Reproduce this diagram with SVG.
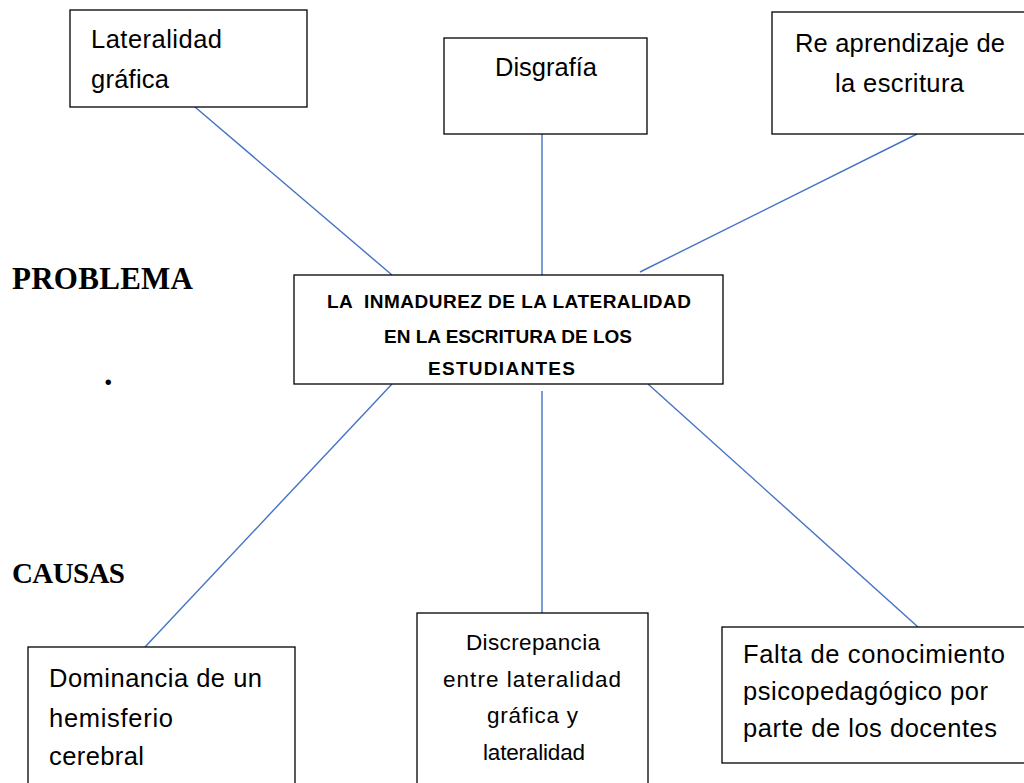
<svg xmlns="http://www.w3.org/2000/svg" width="1024" height="783" viewBox="0 0 1024 783">
<style>
.box{fill:#fff;stroke:#000;stroke-width:1.3}
.t{font-family:"Liberation Sans",Arial,sans-serif;font-size:25.5px;fill:#000}
.s{font-family:"Liberation Sans",Arial,sans-serif;font-size:22.5px;fill:#000}
.b{font-family:"Liberation Sans",Arial,sans-serif;font-size:19px;font-weight:bold;fill:#000;white-space:pre}
.h{font-family:"Liberation Serif","Times New Roman",serif;font-weight:bold;fill:#000}
.c{stroke:#4472C4;stroke-width:1.4;fill:none}
</style>
<rect width="1024" height="783" fill="#fff"/>
<g id="connectors">
<line class="c" x1="195" y1="107" x2="392" y2="275"/>
<line class="c" x1="542" y1="134" x2="542" y2="275"/>
<line class="c" x1="917" y1="134" x2="640" y2="272"/>
<line class="c" x1="392" y1="384" x2="145" y2="647"/>
<line class="c" x1="542" y1="391" x2="542" y2="613"/>
<line class="c" x1="648" y1="384" x2="918" y2="627"/>
</g>
<g id="lateralidad">
<rect class="box" x="70" y="10" width="237" height="97"/>
<text class="t" x="91" y="48" textLength="131">Lateralidad</text>
<text class="t" x="91" y="88" textLength="78">gráfica</text>
</g>
<g id="disgrafia">
<rect class="box" x="444" y="38" width="203" height="96"/>
<text class="t" x="495" y="76" textLength="102">Disgrafía</text>
</g>
<g id="reaprendizaje">
<rect class="box" x="772" y="12" width="270" height="122"/>
<text class="t" x="795" y="52" textLength="210">Re aprendizaje de</text>
<text class="t" x="835" y="92" textLength="129">la escritura</text>
</g>
<g id="problema-central">
<rect class="box" x="294" y="275" width="429" height="109"/>
<text class="b" x="327" y="308" textLength="364" xml:space="preserve">LA  INMADUREZ DE LA LATERALIDAD</text>
<text class="b" x="384" y="343" textLength="248">EN LA ESCRITURA DE LOS</text>
<text class="b" x="428" y="375" textLength="147">ESTUDIANTES</text>
</g>
<g id="labels">
<text class="h" x="12" y="289" font-size="31" textLength="181">PROBLEMA</text>
<text class="h" x="104" y="385" font-size="34">.</text>
<text class="h" x="12" y="583" font-size="29" textLength="113">CAUSAS</text>
</g>
<g id="dominancia">
<rect class="box" x="28" y="647" width="267" height="160"/>
<text class="t" x="49" y="687" textLength="213">Dominancia de un</text>
<text class="t" x="49" y="727" textLength="124">hemisferio</text>
<text class="t" x="49" y="765" textLength="95">cerebral</text>
</g>
<g id="discrepancia">
<rect class="box" x="417" y="613" width="231" height="190"/>
<text class="s" x="466" y="650" textLength="134">Discrepancia</text>
<text class="s" x="443" y="687" textLength="178">entre lateralidad</text>
<text class="s" x="487" y="723" textLength="91">gráfica y</text>
<text class="s" x="483" y="760" textLength="102">lateralidad</text>
</g>
<g id="falta">
<rect class="box" x="722" y="627" width="320" height="136"/>
<text class="t" x="743" y="663" textLength="262">Falta de conocimiento</text>
<text class="t" x="743" y="700" textLength="245">psicopedagógico por</text>
<text class="t" x="743" y="737" textLength="254">parte de los docentes</text>
</g>
</svg>
